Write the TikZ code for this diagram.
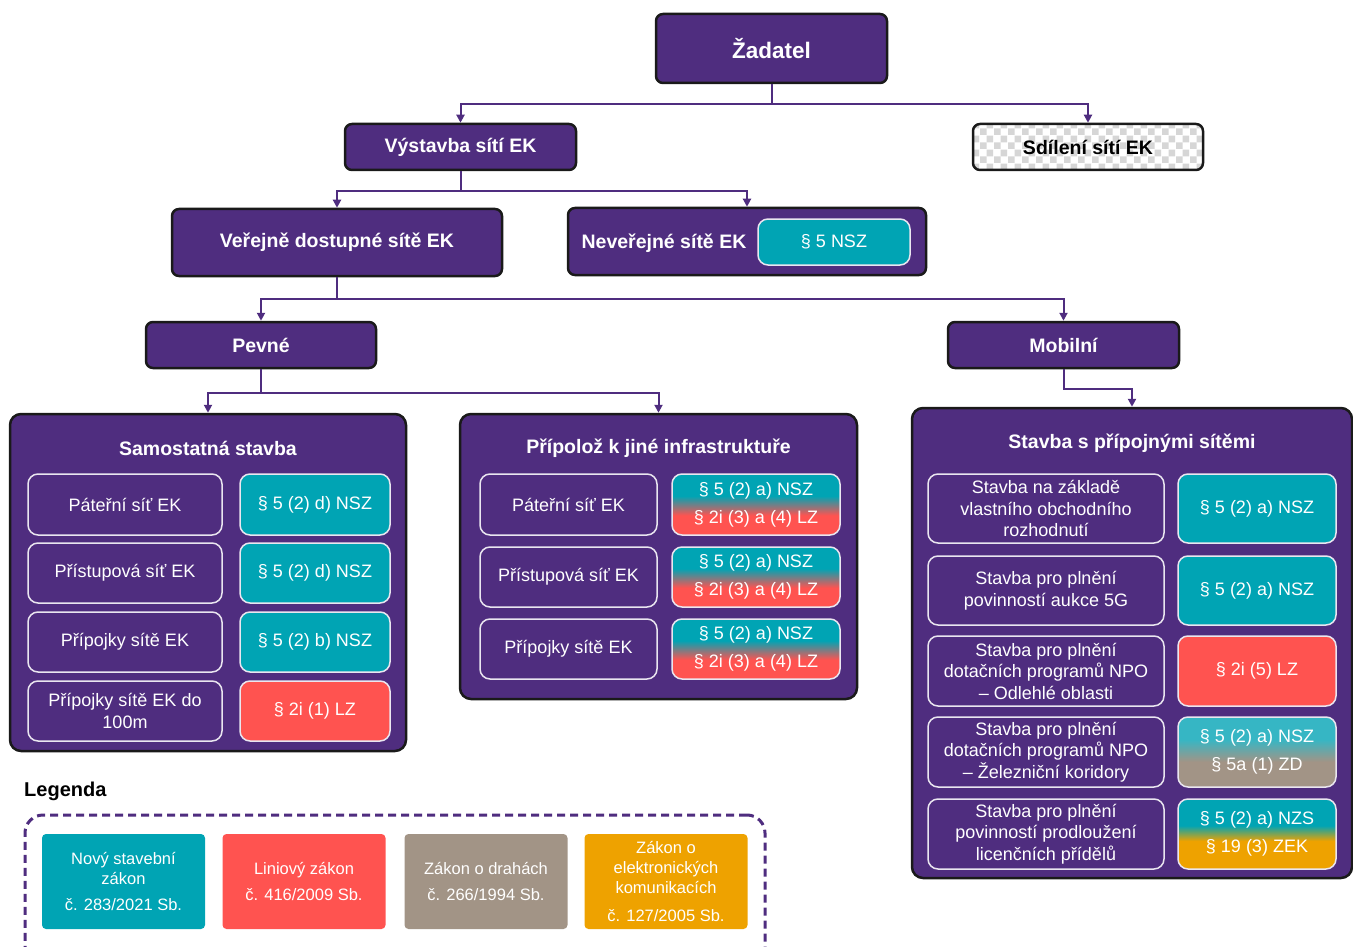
\documentclass[tikz,border=0pt]{standalone}
\usepackage{fontspec}
\setmainfont{Liberation Sans}
\usetikzlibrary{arrows.meta,patterns.meta}

\definecolor{vio}{HTML}{4F2D7F}
\definecolor{tyrk}{HTML}{00A4B4}
\definecolor{tyrklt}{HTML}{36B6C4}
\definecolor{cerv}{HTML}{FF5350}
\definecolor{seda}{HTML}{A29486}
\definecolor{oranz}{HTML}{EEA200}
\definecolor{okraj}{HTML}{1A1A1A}

% prechody pro dvojite odkazy
\pgfdeclareverticalshading{tyrkcerv}{100bp}{color(0bp)=(cerv); color(41bp)=(cerv); color(57bp)=(tyrk); color(100bp)=(tyrk)}
\pgfdeclareverticalshading{tyrkseda}{100bp}{color(0bp)=(seda); color(43bp)=(seda); color(59bp)=(tyrklt); color(100bp)=(tyrklt)}
\pgfdeclareverticalshading{tyrkoranz}{100bp}{color(0bp)=(oranz); color(45bp)=(oranz); color(56bp)=(tyrk); color(100bp)=(tyrk)}

\tikzdeclarepattern{name=sach, type=uncolored, bottom left={(0pt,0pt)}, top right={(14pt,14pt)}, tile size={(14pt,14pt)},
  code={\fill (0pt,0pt) rectangle (7pt,7pt); \fill (7pt,7pt) rectangle (14pt,14pt);}}

\begin{document}
\begin{tikzpicture}[x=1pt,y=-1pt,
		box/.style={draw=okraj,line width=2.5pt,rounded corners=7pt,fill=vio,text=white,inner sep=0pt,font=\fontsize{19.5}{23}\selectfont\bfseries},
		sdilbox/.style={draw=okraj,line width=2.5pt,rounded corners=7pt,preaction={fill=white},pattern=sach,pattern color=black!16,text=black,inner sep=0pt,font=\fontsize{19.5}{23}\selectfont\bfseries},
		skupina/.style={draw=okraj,line width=2.5pt,rounded corners=11pt,fill=vio,inner sep=0pt},
		nadpis/.style={text=white,inner sep=0pt,font=\fontsize{19.5}{23}\selectfont\bfseries},
		polozka/.style={draw=white!88!vio,line width=1.5pt,rounded corners=10pt,text=white,align=center,inner sep=0pt,font=\fontsize{18}{21.5}\selectfont},
		zakon/.style={polozka,fill=tyrk},
		dvojzakon/.style={polozka,shading=#1,font=\fontsize{18}{28}\selectfont},
		legbox/.style={rounded corners=4pt,text=white,align=center,inner sep=0pt,minimum width=163pt,minimum height=95pt,font=\fontsize{16.5}{20}\selectfont},
		spoj/.style={vio,line width=2pt,-{Triangle[length=8pt,width=8pt]}}]
	\useasboundingbox (0,0) rectangle (1353,947);

	% horni urovne
	\node[box,font=\fontsize{22.5}{26}\selectfont\bfseries,minimum width=231pt,minimum height=69pt] (zad) at (771.5,48.5) {Žadatel};
	\node[box,minimum width=231pt,minimum height=46pt] (vys) at (460.5,147) {Výstavba sítí EK};
	\node[sdilbox,minimum width=230pt,minimum height=46pt] (sdi) at (1088,147) {Sdílení sítí EK};
	\node[box,minimum width=330pt,minimum height=67pt] (ver) at (337,242.5) {Veřejně dostupné sítě EK};
	\node[box,minimum width=358pt,minimum height=67pt] (nev) at (747,241.5) {};
	\node[nadpis] (nevt) at (664,243) {Neveřejné sítě EK};
	\node[zakon,minimum width=152pt,minimum height=46pt] (nevz) at (834,242) {§ 5 NSZ};
	\node[box,minimum width=230pt,minimum height=46pt] (pev) at (261,345) {Pevné};
	\node[box,minimum width=231pt,minimum height=46pt] (mob) at (1063.5,345) {Mobilní};

	% skupiny
	\node[skupina,minimum width=396pt,minimum height=337pt] (sam) at (208,582.5) {};
	\node[nadpis] (samt) at (208,448) {Samostatná stavba};
	\node[skupina,minimum width=397pt,minimum height=285pt] (pri) at (658.5,556.5) {};
	\node[nadpis] (prit) at (658.5,448) {Přípolož k jiné infrastruktuře};
	\node[skupina,minimum width=440pt,minimum height=470pt] (stv) at (1132,643) {};
	\node[nadpis] (stvt) at (1132,443) {Stavba s přípojnými sítěmi};

	% samostatna stavba
	\node[polozka,minimum width=194pt,minimum height=61pt] (sam1) at (125,504.5) {Páteřní síť EK};
	\node[zakon,minimum width=150pt,minimum height=61pt] (sam1z) at (315,504.5) {§ 5 (2) d) NSZ};
	\node[polozka,minimum width=194pt,minimum height=60pt] (sam2) at (125,573) {Přístupová síť EK};
	\node[zakon,minimum width=150pt,minimum height=60pt] (sam2z) at (315,573) {§ 5 (2) d) NSZ};
	\node[polozka,minimum width=194pt,minimum height=60pt] (sam3) at (125,642) {Přípojky sítě EK};
	\node[zakon,minimum width=150pt,minimum height=60pt] (sam3z) at (315,642) {§ 5 (2) b) NSZ};
	\node[polozka,minimum width=194pt,minimum height=60pt] (sam4) at (125,711) {Přípojky sítě EK do\\100m};
	\node[zakon,fill=cerv,minimum width=150pt,minimum height=60pt] (sam4z) at (315,711) {§ 2i (1) LZ};

	% pripoloz
	\node[polozka,minimum width=177pt,minimum height=61pt] (pri1) at (568.5,504.5) {Páteřní síť EK};
	\node[dvojzakon=tyrkcerv,minimum width=168pt,minimum height=61pt] (pri1z) at (756,504.5) {§ 5 (2) a) NSZ\\§ 2i (3) a (4) LZ};
	\node[polozka,minimum width=177pt,minimum height=60pt] (pri2) at (568.5,577) {Přístupová síť EK};
	\node[dvojzakon=tyrkcerv,minimum width=168pt,minimum height=60pt] (pri2z) at (756,577) {§ 5 (2) a) NSZ\\§ 2i (3) a (4) LZ};
	\node[polozka,minimum width=177pt,minimum height=60pt] (pri3) at (568.5,649) {Přípojky sítě EK};
	\node[dvojzakon=tyrkcerv,minimum width=168pt,minimum height=60pt] (pri3z) at (756,649) {§ 5 (2) a) NSZ\\§ 2i (3) a (4) LZ};

	% pripojne site
	\node[polozka,minimum width=236pt,minimum height=69pt] (stv1) at (1046,508.5) {Stavba na základě\\vlastního obchodního\\rozhodnutí};
	\node[zakon,minimum width=158pt,minimum height=69pt] (stv1z) at (1257,508.5) {§ 5 (2) a) NSZ};
	\node[polozka,minimum width=236pt,minimum height=69pt] (stv2) at (1046,590.5) {Stavba pro plnění\\povinností aukce 5G};
	\node[zakon,minimum width=158pt,minimum height=69pt] (stv2z) at (1257,590.5) {§ 5 (2) a) NSZ};
	\node[polozka,minimum width=236pt,minimum height=70pt] (stv3) at (1046,671) {Stavba pro plnění\\dotačních programů NPO\\– Odlehlé oblasti};
	\node[zakon,fill=cerv,minimum width=158pt,minimum height=70pt] (stv3z) at (1257,671) {§ 2i (5) LZ};
	\node[polozka,minimum width=236pt,minimum height=70pt] (stv4) at (1046,752) {Stavba pro plnění\\dotačních programů NPO\\– Železniční koridory};
	\node[dvojzakon=tyrkseda,minimum width=158pt,minimum height=70pt] (stv4z) at (1257,752) {§ 5 (2) a) NSZ\\§ 5a (1) ZD};
	\node[polozka,minimum width=236pt,minimum height=70pt] (stv5) at (1046,834) {Stavba pro plnění\\povinností prodloužení\\licenčních přídělů};
	\node[dvojzakon=tyrkoranz,minimum width=158pt,minimum height=70pt] (stv5z) at (1257,834) {§ 5 (2) a) NZS\\§ 19 (3) ZEK};

	% spojnice
	\draw[spoj] (zad.south) -- ++(0,20) -| (vys.north);
	\draw[spoj] (zad.south) -- ++(0,20) -| (sdi.north);
	\draw[spoj] (vys.south) -- ++(0,20) -| (ver.north);
	\draw[spoj] (vys.south) -- ++(0,20) -| (nev.north);
	\draw[spoj] (ver.south) -- ++(0,22) -| (pev.north);
	\draw[spoj] (ver.south) -- ++(0,22) -| (mob.north);
	\draw[spoj] (pev.south) -- ++(0,24) -| (sam.north);
	\draw[spoj] (pev.south) -- ++(0,24) -| (pri.north);
	\draw[spoj] (mob.south) -- ++(0,20) -| (stv.north);

	% legenda
	\node[anchor=west,inner sep=0pt,font=\fontsize{20}{24}\selectfont\bfseries] (leg) at (24,791) {Legenda};
	\begin{scope}
		\clip (0,0) rectangle (1353,947);
		\node[draw=vio,line width=3pt,dash pattern=on 8pt off 5pt,rounded corners=18pt,minimum width=740pt,minimum height=150pt] (legr) at (395,890) {};
	\end{scope}
	\node[legbox,fill=tyrk] (leg1) at (123.5,881.5) {Nový stavební\\zákon\\[6pt]č. 283/2021 Sb.};
	\node[legbox,fill=cerv] (leg2) at (304,881.5) {Liniový zákon\\[6pt]č. 416/2009 Sb.};
	\node[legbox,fill=seda] (leg3) at (486,881.5) {Zákon o drahách\\[6pt]č. 266/1994 Sb.};
	\node[legbox,fill=oranz] (leg4) at (666,881.5) {Zákon o\\elektronických\\komunikacích\\[8pt]č. 127/2005 Sb.};
\end{tikzpicture}
\end{document}
